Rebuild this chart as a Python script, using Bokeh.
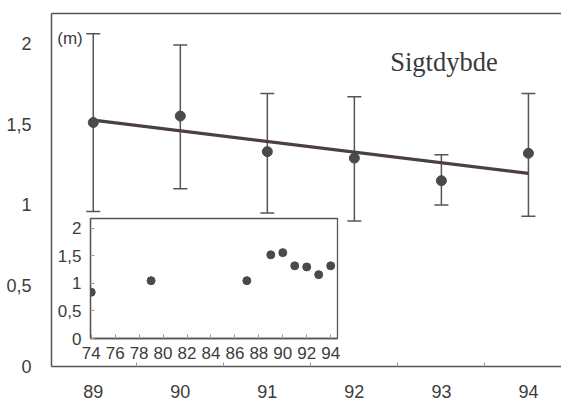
from bokeh.plotting import figure
from bokeh.models import (ColumnDataSource, Whisker, TeeHead, FixedTicker,
                          LinearAxis, Label, Range1d)
from bokeh.embed import file_html
from bokeh.resources import INLINE

# ---- data ----
years = [89, 90, 91, 92, 93, 94]
depth = [1.51, 1.55, 1.33, 1.29, 1.15, 1.32]
err_upper = [2.06, 1.99, 1.69, 1.67, 1.31, 1.69]
err_lower = [0.96, 1.10, 0.95, 0.90, 1.00, 0.93]
trend_years = [89, 94]
trend_depth = [1.525, 1.195]

inset_years = [74, 79, 87, 89, 90, 91, 92, 93, 94]
inset_depth = [0.84, 1.05, 1.05, 1.52, 1.56, 1.32, 1.30, 1.16, 1.32]

main_xticks = [89, 90, 91, 92, 93, 94]
main_xminor = [88.5, 89.5, 90.5, 91.5, 92.5, 93.5, 94.5]
main_yticks = [0, 0.5, 1, 1.5, 2]
main_ylabels = ["0", "0,5", "1", "1,5", "2"]
inset_xticks = [74, 76, 78, 80, 82, 84, 86, 88, 90, 92, 94]
inset_yticks = [0, 0.5, 1, 1.5, 2]
inset_ylabels = ["0", "0,5", "1", "1,5", "2"]

title_text = "Sigtdybde"
unit_text = "(m)"

FONT = "Liberation Sans"
AX = "#555555"
TXT = "#3c3c3c"
DOT = "#4a4a4a"

# ---- main figure ----
p = figure(width=561, height=400, output_backend="svg", toolbar_location=None,
           x_range=Range1d(88.52, 94.38), y_range=Range1d(0, 2.185),
           min_border_left=51, min_border_right=0, min_border_top=13,
           min_border_bottom=33)
p.outline_line_color = None
p.grid.visible = False
p.background_fill_color = "white"
p.border_fill_color = "white"

for ax in (p.xaxis[0], p.yaxis[0]):
    ax.axis_line_color = AX
    ax.axis_line_width = 1.5
    ax.major_label_text_font = FONT
    ax.major_label_text_font_size = "18px"
    ax.major_label_text_color = TXT

p.xaxis[0].ticker = FixedTicker(ticks=main_xticks, minor_ticks=main_xminor)
p.xaxis[0].major_tick_line_color = None
p.xaxis[0].minor_tick_in = 4
p.xaxis[0].minor_tick_out = 0
p.xaxis[0].minor_tick_line_color = "#999999"
p.xaxis[0].major_label_standoff = 12

p.yaxis[0].ticker = FixedTicker(ticks=main_yticks)
p.yaxis[0].major_label_overrides = {t: l for t, l in zip(main_yticks, main_ylabels)}
p.yaxis[0].major_tick_line_color = None
p.yaxis[0].minor_tick_line_color = None
p.yaxis[0].major_label_standoff = 14

top_axis = LinearAxis(axis_line_color=AX, axis_line_width=1.5,
                      major_tick_line_color=None, minor_tick_line_color=None,
                      major_label_text_font_size="0px", major_label_standoff=0,
                      major_tick_out=0, major_tick_in=0)
top_axis.ticker = FixedTicker(ticks=[])
p.add_layout(top_axis, "above")

src = ColumnDataSource(dict(x=years, y=depth, upper=err_upper, lower=err_lower))
p.add_layout(Whisker(source=src, base="x", upper="upper", lower="lower",
                     dimension="height", line_color=AX, line_width=1.5,
                     upper_head=TeeHead(size=14, line_color=AX, line_width=1.5),
                     lower_head=TeeHead(size=14, line_color=AX, line_width=1.5)))
p.line(trend_years, trend_depth, line_color="#4b3f47", line_width=3.2)
p.scatter("x", "y", source=src, size=10, fill_color=DOT, line_color=DOT)

p.add_layout(Label(x=93.03, y=1.883, text=title_text, text_align="center",
                   text_baseline="alphabetic", text_font="Liberation Serif",
                   text_font_size="26.5px", text_color="#3a3a3a"))
p.add_layout(Label(x=88.586, y=2.028, text=unit_text, text_align="left",
                   text_baseline="alphabetic", text_font=FONT,
                   text_font_size="17px", text_color=TXT))

# ---- inset figure (positioned over the main one) ----
ins = figure(width=291, height=158, output_backend="svg", toolbar_location=None,
             x_range=Range1d(73.94, 94.57), y_range=Range1d(0, 2.18),
             min_border_left=34, min_border_right=8, min_border_top=10,
             min_border_bottom=28,
             styles={"position": "absolute", "left": "54px", "top": "208px"})
ins.grid.visible = False
ins.background_fill_color = "white"
ins.border_fill_color = None
ins.outline_line_color = AX
ins.outline_line_width = 1.3

for ax in (ins.xaxis[0], ins.yaxis[0]):
    ax.axis_line_color = AX
    ax.axis_line_width = 1.3
    ax.major_label_text_font = FONT
    ax.major_label_text_font_size = "17px"
    ax.major_label_text_color = TXT
    ax.major_tick_line_color = "#999999"
    ax.major_tick_in = 4
    ax.major_tick_out = 0
    ax.minor_tick_line_color = None

ins.xaxis[0].ticker = FixedTicker(ticks=inset_xticks)
ins.xaxis[0].major_label_standoff = 8
ins.yaxis[0].ticker = FixedTicker(ticks=inset_yticks)
ins.yaxis[0].major_label_overrides = {t: l for t, l in zip(inset_yticks, inset_ylabels)}
ins.yaxis[0].major_label_standoff = 9

ins.scatter(inset_years, inset_depth, size=8, fill_color=DOT, line_color=DOT)

with open("out.html", "w") as f:
    f.write(file_html([p, ins], INLINE))
